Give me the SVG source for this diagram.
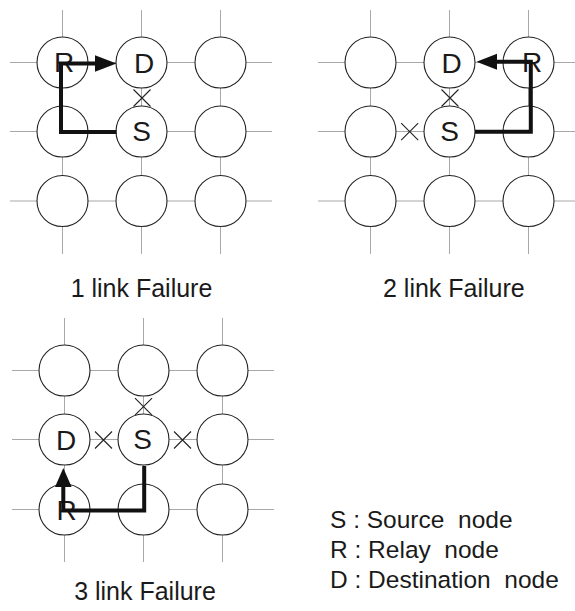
<svg xmlns="http://www.w3.org/2000/svg" width="575" height="611" viewBox="0 0 575 611">
<style>
.grid{stroke:#a8a8a8;stroke-width:1;fill:none}
.node circle{fill:#fff;stroke:#222;stroke-width:1.1}
.lbl{font-family:"Liberation Sans",Arial,sans-serif;font-size:28px;fill:#1a1a1a;text-anchor:middle}
.path{fill:none;stroke:#111;stroke-width:4;stroke-linejoin:miter}
.head{fill:#111}
.x{stroke:#222;stroke-width:1.1}
.cap{font-family:"Liberation Sans",Arial,sans-serif;font-size:25px;fill:#1a1a1a}
.leg{font-family:"Liberation Sans",Arial,sans-serif;font-size:24.5px;fill:#1a1a1a;white-space:pre}
</style>
<rect width="575" height="611" fill="#fff"/>
<g id="connectors">
  <g id="grid1" class="grid">
    <path d="M10,62.5H272M10,131.5H272M10,201H272M62.5,10V254M141.5,10V254M220.5,10V254"/>
  </g>
  <g id="grid2" class="grid">
    <path d="M318,62.5H575M318,131.5H575M318,201H575M370.5,10V254M449.5,10V254M528.5,10V254"/>
  </g>
  <g id="grid3" class="grid">
    <path d="M12,370.5H274M12,439.5H274M12,509.5H274M64.5,318V562M143.5,318V562M222.5,318V562"/>
  </g>
</g>
<g id="nodes1">
  <g id="g1-r0c0" class="node"><circle cx="62.5" cy="62.5" r="25.5"/><text class="lbl" x="64" y="72">R</text></g>
  <g id="g1-r0c1" class="node"><circle cx="141.5" cy="62.5" r="25.5"/><text class="lbl" x="144" y="72.5">D</text></g>
  <g id="g1-r0c2" class="node"><circle cx="220.5" cy="62.5" r="25.5"/></g>
  <g id="g1-r1c0" class="node"><circle cx="62.5" cy="131.5" r="25.5"/></g>
  <g id="g1-r1c1" class="node"><circle cx="141.5" cy="131.5" r="25.5"/><text class="lbl" x="141.5" y="141">S</text></g>
  <g id="g1-r1c2" class="node"><circle cx="220.5" cy="131.5" r="25.5"/></g>
  <g id="g1-r2c0" class="node"><circle cx="62.5" cy="201" r="25.5"/></g>
  <g id="g1-r2c1" class="node"><circle cx="141.5" cy="201" r="25.5"/></g>
  <g id="g1-r2c2" class="node"><circle cx="220.5" cy="201" r="25.5"/></g>
</g>
<g id="nodes2">
  <g id="g2-r0c0" class="node"><circle cx="370.5" cy="62.5" r="25.5"/></g>
  <g id="g2-r0c1" class="node"><circle cx="449.5" cy="62.5" r="25.5"/><text class="lbl" x="451.5" y="72.5">D</text></g>
  <g id="g2-r0c2" class="node"><circle cx="528.5" cy="62.5" r="25.5"/><text class="lbl" x="532" y="72">R</text></g>
  <g id="g2-r1c0" class="node"><circle cx="370.5" cy="131.5" r="25.5"/></g>
  <g id="g2-r1c1" class="node"><circle cx="449.5" cy="131.5" r="25.5"/><text class="lbl" x="449.5" y="141">S</text></g>
  <g id="g2-r1c2" class="node"><circle cx="528.5" cy="131.5" r="25.5"/></g>
  <g id="g2-r2c0" class="node"><circle cx="370.5" cy="201" r="25.5"/></g>
  <g id="g2-r2c1" class="node"><circle cx="449.5" cy="201" r="25.5"/></g>
  <g id="g2-r2c2" class="node"><circle cx="528.5" cy="201" r="25.5"/></g>
</g>
<g id="nodes3">
  <g id="g3-r0c0" class="node"><circle cx="64.5" cy="370.5" r="25.5"/></g>
  <g id="g3-r0c1" class="node"><circle cx="143.5" cy="370.5" r="25.5"/></g>
  <g id="g3-r0c2" class="node"><circle cx="222.5" cy="370.5" r="25.5"/></g>
  <g id="g3-r1c0" class="node"><circle cx="64.5" cy="439.5" r="25.5"/><text class="lbl" x="66" y="449.5">D</text></g>
  <g id="g3-r1c1" class="node"><circle cx="143.5" cy="439.5" r="25.5"/><text class="lbl" x="142.5" y="449">S</text></g>
  <g id="g3-r1c2" class="node"><circle cx="222.5" cy="439.5" r="25.5"/></g>
  <g id="g3-r2c0" class="node"><circle cx="64.5" cy="509.5" r="25.5"/><text class="lbl" x="66.5" y="519.5">R</text></g>
  <g id="g3-r2c1" class="node"><circle cx="143.5" cy="509.5" r="25.5"/></g>
  <g id="g3-r2c2" class="node"><circle cx="222.5" cy="509.5" r="25.5"/></g>
</g>
<g id="routes">
  <path class="path" d="M116.5,132H61V63.5H96"/>
  <polygon class="head" points="95,55.2 116.5,63.5 95,71.8"/>
  <path class="path" d="M475,131.7H530.8V61.7H495"/>
  <polygon class="head" points="497,53.7 476.5,61.7 497,69.7"/>
  <path class="path" d="M144.2,466V510.5H63.3V485"/>
  <polygon class="head" points="55,487 63.3,468 71.6,487"/>
</g>
<g id="failures" class="x">
  <path d="M133.5,89.5L150.5,106.5M150.5,89.5L133.5,106.5"/>
  <path d="M441.5,89.5L458.5,106.5M458.5,89.5L441.5,106.5"/>
  <path d="M401.2,123.2L418.2,140.2M418.2,123.2L401.2,140.2"/>
  <path d="M135,398.2L152,415.2M152,398.2L135,415.2"/>
  <path d="M95,431.5L112,448.5M112,431.5L95,448.5"/>
  <path d="M174,431.5L191,448.5M191,431.5L174,448.5"/>
</g>
<g id="captions">
  <text class="cap" x="141.5" y="296.5" text-anchor="middle">1 link Failure</text>
  <text class="cap" x="383" y="296.5">2 link Failure</text>
  <text class="cap" x="145" y="600" text-anchor="middle">3 link Failure</text>
</g>
<g id="legend">
  <text class="leg" x="330" y="527.5">S : Source  node</text>
  <text class="leg" x="330" y="557.5">R : Relay  node</text>
  <text class="leg" x="330" y="588">D : Destination  node</text>
</g>
</svg>
